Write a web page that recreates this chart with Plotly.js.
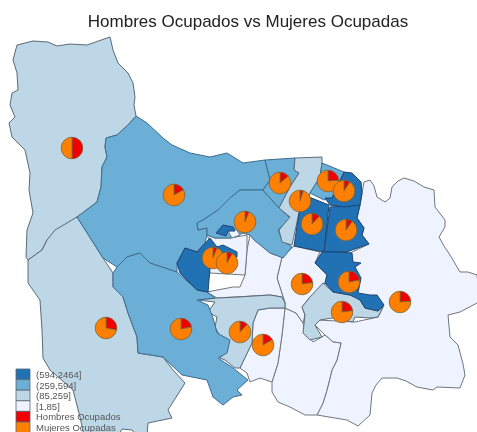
<!DOCTYPE html>
<html><head><meta charset="utf-8">
<script src="https://cdn.plot.ly/plotly-3.0.1.min.js"></script>
<style>html,body{margin:0;padding:0;background:#fff}#c{width:477px;height:432px;filter:blur(0.45px)}</style>
</head><body><div id="c"></div>
<script>
// Map polygons (projected map units)
const eastRegion=[[364,182],[370,180],[374,186],[377,197],[385,202],[390,198],[392,187],[398,181],[404,178],[414,181],[424,187],[434,190],[435,207],[440,213],[445,220],[445,227],[439,237],[444,246],[450,255],[460,272],[468,272],[477,275],[480,303],[477,303],[468,308],[460,312],[448,315],[449,327],[450,337],[458,345],[460,352],[463,364],[465,375],[460,388],[437,387],[433,390],[417,387],[406,381],[397,378],[382,378],[376,385],[372,393],[370,415],[358,426],[347,420],[317,415],[323,403],[327,390],[332,370],[337,360],[341,343],[333,342],[325,335],[315,325],[318,320],[355,322],[378,317],[384,305],[354,300],[350,253],[369,244],[362,235],[364,228],[357,218],[360,205],[362,193]];
const southMiddle=[[285,308],[296,313],[303,323],[305,330],[313,342],[325,335],[333,342],[341,343],[337,360],[332,370],[327,390],[323,403],[317,415],[305,415],[290,407],[278,402],[272,392],[272,382],[278,363],[282,335]];
const southWest=[[258,310],[270,308],[285,308],[282,335],[278,363],[272,382],[260,378],[250,382],[247,373],[240,368],[245,357],[252,343],[253,323]];
const centerWhite=[[282,257],[294,246],[320,252],[315,263],[327,275],[325,283],[310,297],[302,307],[305,315],[303,323],[296,313],[285,308],[285,303],[277,278]];
const northWhite=[[250,235],[270,253],[282,257],[277,278],[285,303],[282,297],[270,295],[238,297],[217,298],[207,292],[233,287],[240,287],[245,275],[247,250]];
const boxWhite=[[207,235],[215,238],[230,238],[247,235],[247,250],[245,275],[210,273],[208,262],[213,247]];
const southLight=[[323,283],[333,292],[350,295],[358,297],[365,308],[378,311],[383,307],[378,317],[370,318],[355,317],[353,322],[332,318],[320,320],[315,325],[322,337],[310,340],[303,333],[305,315],[302,307],[310,297]];
const middleLight=[[197,300],[217,298],[238,297],[270,295],[282,297],[285,303],[285,308],[270,308],[258,310],[253,323],[252,343],[245,357],[240,368],[235,368],[225,360],[220,358],[228,350],[225,345],[218,333],[215,327],[217,317],[208,312],[215,302]];
const northwestLight=[[110,37],[113,50],[118,63],[128,73],[133,83],[135,97],[134,105],[136,116],[128,125],[117,135],[106,138],[105,147],[107,157],[102,167],[101,187],[97,202],[80,215],[57,230],[47,240],[42,250],[28,260],[26,257],[27,230],[33,213],[29,190],[30,173],[25,150],[12,137],[9,123],[15,117],[10,105],[12,93],[18,90],[17,73],[13,60],[17,45],[33,41],[48,42],[57,46],[70,44],[87,45]];
const southwestLight=[[77,217],[85,230],[103,258],[113,273],[113,287],[123,297],[128,313],[137,337],[138,353],[163,357],[173,370],[185,383],[173,403],[168,410],[172,418],[148,423],[147,436],[138,436],[132,430],[122,429],[118,436],[84,436],[80,417],[73,390],[50,370],[43,358],[42,330],[40,300],[28,283],[28,260],[42,250],[47,240],[55,230]];
const northMedium=[[136,116],[147,123],[163,138],[172,145],[190,153],[210,157],[227,153],[243,163],[265,160],[270,180],[263,190],[240,190],[230,198],[218,210],[203,220],[197,223],[198,230],[207,228],[207,235],[205,243],[197,252],[185,248],[177,263],[177,272],[150,263],[140,253],[127,257],[117,267],[103,258],[85,230],[77,217],[97,202],[101,187],[102,167],[107,157],[105,147],[106,138],[117,135],[128,125]];
const southMedium=[[127,257],[140,253],[150,263],[177,272],[197,290],[207,292],[215,298],[197,300],[208,305],[213,318],[217,333],[230,340],[227,353],[218,358],[233,368],[248,380],[237,390],[242,395],[233,397],[223,405],[213,397],[207,380],[182,375],[170,363],[163,357],[138,353],[137,337],[128,313],[123,297],[113,287],[113,273],[117,267]];
const eastMedium=[[240,190],[263,190],[278,207],[290,218],[278,230],[282,240],[292,247],[283,258],[270,253],[254,240],[250,235],[243,233],[235,237],[230,238],[215,238],[207,235],[207,228],[198,230],[197,223],[203,220],[218,210],[230,198]];
const spotWhite=[[228,231],[236,229],[240,235],[232,238]];
const topMedium=[[265,160],[295,158],[294,170],[299,173],[290,187],[279,208],[263,190],[270,180]];
const topLight=[[295,158],[322,157],[322,163],[320,177],[310,193],[309,197],[299,213],[292,245],[282,242],[279,230],[290,217],[279,208],[290,187],[299,173],[294,170]];
const topRightMedium=[[322,163],[344,172],[332,198],[324,200],[310,193],[320,177]];
const westDark=[[177,263],[185,248],[197,252],[205,243],[210,238],[217,247],[223,245],[237,252],[237,257],[222,258],[210,268],[208,292],[197,290],[180,273]];
const spotDark=[[223,225],[233,227],[235,231],[228,231],[226,236],[216,233]];
const centerDark=[[309,197],[329,205],[324,252],[294,246],[299,213]];
const eastDark=[[330,207],[360,205],[357,218],[364,228],[362,235],[369,244],[352,250],[347,252],[337,252],[324,252]];
const topDark=[[344,172],[352,173],[361,182],[362,193],[360,205],[344,207],[330,205],[325,198],[332,198]];
const southDark=[[322,252],[337,252],[352,253],[353,262],[361,263],[355,267],[361,278],[359,287],[358,293],[370,295],[377,295],[384,305],[378,311],[365,308],[360,300],[350,295],[333,292],[325,283],[327,275],[315,263]];

// Drawing order and class of each polygon
const regions=[eastRegion,southMiddle,southWest,centerWhite,northWhite,boxWhite,southLight,middleLight,northwestLight,southwestLight,northMedium,southMedium,eastMedium,spotWhite,topMedium,topLight,topRightMedium,westDark,spotDark,centerDark,eastDark,topDark,southDark];
const regionClass=[3,3,3,3,3,3,2,2,2,2,1,1,1,3,1,2,1,0,0,0,0,0,0];

// Class palette and legend text
const classColors=['#2171b5','#6baed6','#bdd7e7','#eff3ff'];
const classLines=['#1f4470','#3f6c90','#5a6a78','#70767c'];
const pieColors=['#f00000','#ff8000'];
const legendLabels=['(594,2464]','(259,594]','(85,259]','[1,85]','Hombres Ocupados','Mujeres Ocupadas'];

// Pies: position and the two occupied shares
const pieX=[72,174,280,300,328,344,312,346,245,213,227,302,349,400,342,106,181,240,263];
const pieY=[148,195,183,201,181,191,224,230,222,258,263,284,282,302,312,328,329,332,345];
const hombres=[50,17,14,5,24,9,12,10,6,6,8,23,22,24,23,28,22,12,17];
const mujeres=[50,83,86,95,76,91,88,90,94,94,92,77,78,76,77,72,78,88,83];

const W=477,H=432,R=10.8;
const traces=regions.map((p,i)=>({
  type:'scatter',mode:'lines',fill:'toself',
  x:p.map(q=>q[0]).concat([p[0][0]]),y:p.map(q=>q[1]).concat([p[0][1]]),
  fillcolor:classColors[regionClass[i]],
  line:{color:classLines[regionClass[i]],width:1},hoverinfo:'skip',showlegend:false
}));
pieX.forEach((x,i)=>traces.push({
  type:'pie',values:[hombres[i],mujeres[i]],labels:legendLabels.slice(4),
  sort:false,direction:'clockwise',rotation:0,textinfo:'none',showlegend:false,
  marker:{colors:pieColors,line:{color:'#7a6238',width:0.8}},
  domain:{x:[(x-R)/W,(x+R)/W],y:[1-(pieY[i]+R)/H,1-(pieY[i]-R)/H]}
}));
const swatches=classColors.concat(pieColors);
const shapes=swatches.map((c,i)=>({type:'rect',xref:'x',yref:'y',x0:16,x1:30,y0:369+i*10.6,y1:379.6+i*10.6,
  fillcolor:c,line:{color:'#5a6570',width:0.8},layer:'above'}));
const annotations=legendLabels.map((t,i)=>({xref:'x',yref:'y',x:33.5,y:374.5+i*10.5,text:t,showarrow:false,xanchor:'left',yanchor:'middle',
  font:{family:'Liberation Sans, Arial, sans-serif',size:9.5,color:'#555'}}));
Plotly.newPlot('c',traces,{
  width:W,height:H,margin:{l:0,r:0,t:0,b:0},paper_bgcolor:'#fff',plot_bgcolor:'#fff',showlegend:false,
  title:{text:'Hombres Ocupados vs Mujeres Ocupadas',x:248/W,xanchor:'center',y:1-21/H,yanchor:'middle',
    font:{family:'Liberation Sans, Arial, sans-serif',size:17,color:'#222'}},
  xaxis:{range:[0,W],visible:false,fixedrange:true},
  yaxis:{range:[H,0],visible:false,fixedrange:true},
  shapes,annotations
},{displayModeBar:false,staticPlot:true});
</script></body></html>
